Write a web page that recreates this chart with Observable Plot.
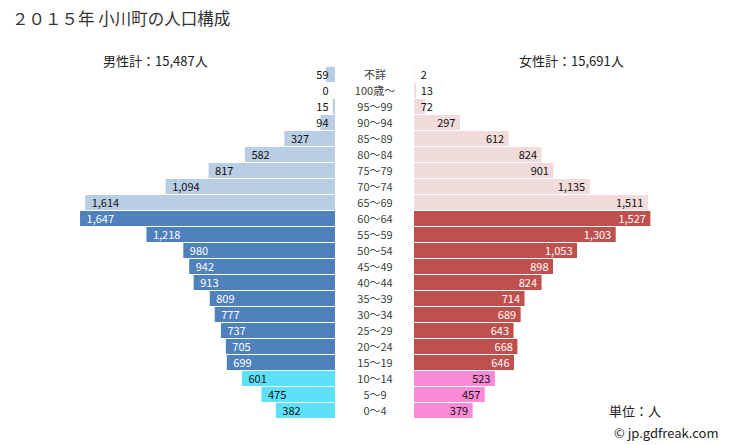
<!DOCTYPE html>
<html><head><meta charset="utf-8">
<script src="https://cdn.jsdelivr.net/npm/d3@7"></script>
<script src="https://cdn.jsdelivr.net/npm/@observablehq/plot@0.6"></script>
<style>
body{margin:0;background:#fff;font-family:"Noto Sans CJK JP","Noto Sans",sans-serif;}
#wrap{position:relative;width:729px;height:445px;overflow:hidden;}
#wrap svg{position:absolute;left:0;top:0;}
.t{position:absolute;white-space:nowrap;color:#222;}
</style></head><body>
<div id="wrap">
<div class="t" style="left:12px;top:6px;font-size:16.5px;color:#333;">２０１５年 小川町の人口構成</div>
<div class="t" style="left:103px;top:51px;font-size:13px;">男性計：15,487人</div>
<div class="t" style="left:519px;top:51px;font-size:13px;">女性計：15,691人</div>
<div class="t" style="left:609px;top:401px;font-size:13px;">単位：人</div>
<div class="t" style="left:614px;top:423px;font-size:13px;">© jp.gdfreak.com</div>
</div>
<script>
const ages = ["不詳","100歳～","95～99","90～94","85～89","80～84","75～79","70～74","65～69","60～64","55～59","50～54","45～49","40～44","35～39","30～34","25～29","20～24","15～19","10～14","5～9","0～4"];
const male = [59,0,15,94,327,582,817,1094,1614,1647,1218,980,942,913,809,777,737,705,699,601,475,382];
const female = [2,13,72,297,612,824,901,1135,1511,1527,1303,1053,898,824,714,689,643,668,646,523,457,379];
const groups = ages.map((a,i)=> i<=8 ? "old" : (i<=18 ? "work" : "young"));

const k = 0.1548;          // px per person
const G = 39.5 / k;        // half gap in data units
const maleColor = {old:"#B9CDE5", work:"#4F81BD", young:"#5CE1F8"};
const femColor = {old:"#F2DCDB", work:"#C0504D", young:"#FB8AD7"};
const txtColor = g => g==="work" ? "#fff" : "#111";

const rows = ages.map((a,i)=>({age:a, m:male[i], f:female[i], g:groups[i]}));
const fmt = d3.format(",");

const chart = Plot.plot({
  width:729, height:445,
  marginLeft:0, marginRight:0, marginTop:0, marginBottom:0,
  style:{background:"transparent", fontFamily:"'Noto Sans CJK JP','Noto Sans',sans-serif"},
  x:{domain:[-374.5/k, 354.5/k], range:[0,729], axis:null},
  y:{domain:ages, range:[62.5,422.2], padding:0.08, axis:null},
  marks:[
    Plot.barX(rows,{y:"age", x1:-G, x2:d=>-(d.m+G), fill:d=>maleColor[d.g]}),
    Plot.barX(rows,{y:"age", x1:G, x2:d=>d.f+G, fill:d=>femColor[d.g]}),
    Plot.text(rows.filter(d=>d.m>=100),{y:"age", x:d=>-(d.m+G), text:d=>fmt(d.m), textAnchor:"start", dx:6, fill:d=>txtColor(d.g), fontSize:11}),
    Plot.text(rows.filter(d=>d.m<100),{y:"age", x:-(G+45), text:d=>fmt(d.m), textAnchor:"end", fill:"#111", fontSize:11}),
    Plot.text(rows.filter(d=>d.f>=100),{y:"age", x:d=>d.f+G, text:d=>fmt(d.f), textAnchor:"end", dx:-5, fill:d=>txtColor(d.g), fontSize:11}),
    Plot.text(rows.filter(d=>d.f<100),{y:"age", x:G+40, text:d=>fmt(d.f), textAnchor:"start", fill:"#111", fontSize:11}),
    Plot.text(rows,{y:"age", x:0, text:"age", textAnchor:"middle", fill:"#404040", fontSize:11})
  ]
});
document.getElementById("wrap").prepend(chart);
</script>
</body></html>
